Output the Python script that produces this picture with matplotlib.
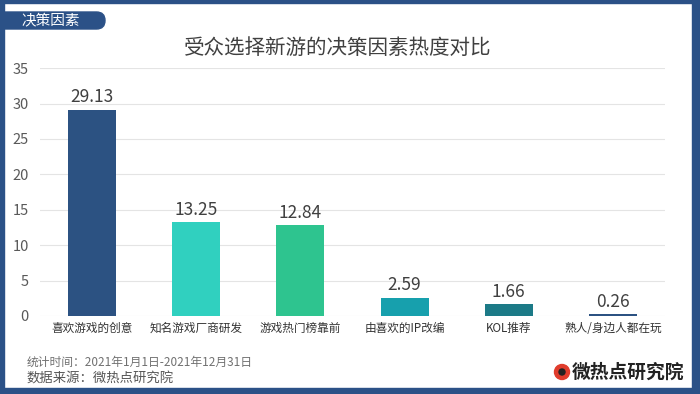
import matplotlib.pyplot as plt
from matplotlib.patches import Rectangle, FancyBboxPatch, Circle

plt.rcParams['font.family'] = ['Noto Sans CJK SC', 'DejaVu Sans']

categories = ['喜欢游戏的创意', '知名游戏厂商研发', '游戏热门榜靠前',
              '由喜欢的IP改编', 'KOL推荐', '熟人/身边人都在玩']
values = [29.13, 13.25, 12.84, 2.59, 1.66, 0.26]
colors = ['#2c5282', '#30d0bf', '#2ec48f', '#17a0ad', '#1c7a87', '#2c5282']
yticks = [0, 5, 10, 15, 20, 25, 30, 35]

frame = '#2b5187'

fig = plt.figure(figsize=(7, 3.94), dpi=100)
ax = fig.add_axes([0.057, 0.198, 0.893, 0.629])

x = range(len(categories))
bars = ax.bar(x, values, width=0.46, color=colors, zorder=3)
for b, v in zip(bars, values):
    ax.text(b.get_x() + b.get_width() / 2, v + 0.5, f'{v:.2f}',
            ha='center', va='bottom', fontsize=12.5, fontweight='light',
            color='#404040')

ax.set_ylim(0, 35)
ax.set_xlim(-0.5, len(categories) - 0.5)
ax.set_yticks(yticks)
ax.set_xticks(list(x))
ax.set_xticklabels(categories, fontsize=8.4, color='#333333')
ax.tick_params(axis='y', labelsize=10.5, colors='#595959', length=0, pad=8)
ax.tick_params(axis='x', length=0, pad=4)
ax.grid(axis='y', color='#e4e4e4', linewidth=0.8, zorder=0)
for s in ax.spines.values():
    s.set_visible(False)

fig.text(0.482, 0.878, '受众选择新游的决策因素热度对比', ha='center', va='center',
         fontsize=14.8, color='#404040')

# frame around the picture
fig.patches.append(Rectangle((0, 0.992), 1, 0.008, transform=fig.transFigure,
                             color=frame))
fig.patches.append(Rectangle((0, 0), 0.006, 1, transform=fig.transFigure,
                             color=frame))
fig.patches.append(Rectangle((0.988, 0), 0.012, 1, transform=fig.transFigure,
                             color=frame))
fig.patches.append(Rectangle((0, 0), 1, 0.015, transform=fig.transFigure,
                             color=frame))

# tab label (inches)
fig.patches.append(FancyBboxPatch((-0.2, 3.65), 1.25, 0.17,
                                  boxstyle='round,pad=0,rounding_size=0.085',
                                  transform=fig.dpi_scale_trans, color=frame))
fig.text(0.031, 0.948, '决策因素', ha='left', va='center', fontsize=10.5,
         color='white')

# footer
fig.text(0.038, 0.080, '统计时间：2021年1月1日-2021年12月31日', fontsize=8.5,
         color='#707070', va='center')
fig.text(0.038, 0.040, '数据来源：微热点研究院', fontsize=9.6,
         color='#555555', va='center')

# logo
fig.patches.append(Circle((5.62, 0.22), 0.075, transform=fig.dpi_scale_trans,
                          color='#e03c2c'))
fig.patches.append(Circle((5.62, 0.22), 0.03, transform=fig.dpi_scale_trans,
                          color='#222222'))
fig.text(0.817, 0.056, '微热点研究院', fontsize=13.5, fontweight='bold',
         color='#222222', va='center')

fig.savefig('out.png', dpi=100)
